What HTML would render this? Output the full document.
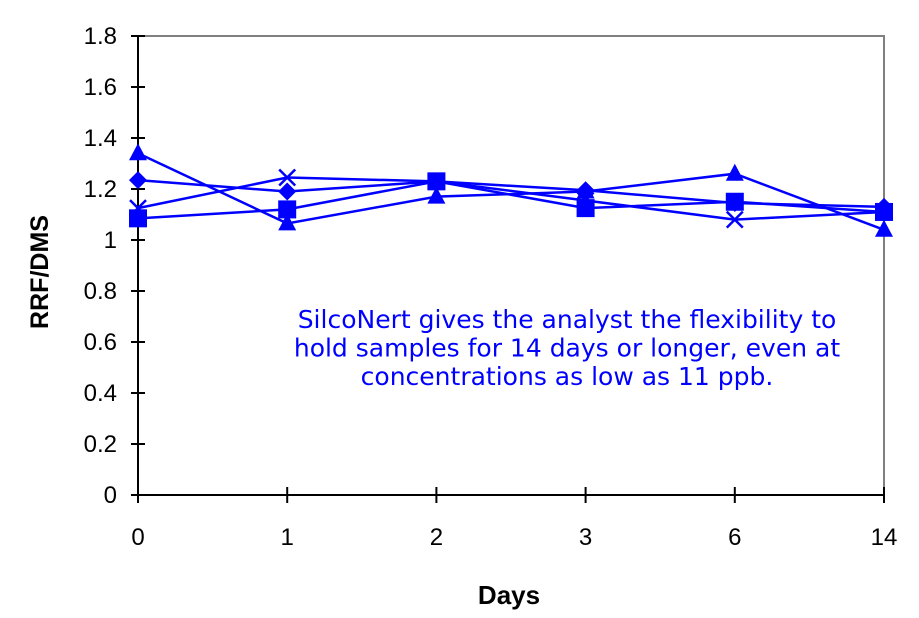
<!DOCTYPE html>
<html><head><meta charset="utf-8"><style>
body{margin:0;background:#fff}
svg text{font-family:"Liberation Sans",Arial,sans-serif}
</style></head><body>
<svg id="chart" width="919" height="613" xmlns="http://www.w3.org/2000/svg"></svg>
<script>
const categories=["0","1","2","3","6","14"];
const yTicks=[0,0.2,0.4,0.6,0.8,1,1.2,1.4,1.6,1.8];
const yTickLabels=["0","0.2","0.4","0.6","0.8","1","1.2","1.4","1.6","1.8"];
const diamondSeries=[1.235,1.19,1.23,1.195,1.145,1.13];
const squareSeries=[1.085,1.12,1.23,1.125,1.15,1.11];
const triangleSeries=[1.34,1.065,1.17,1.19,1.26,1.04];
const crossSeries=[1.125,1.245,1.23,1.155,1.08,1.11];

const NS="http://www.w3.org/2000/svg";
const svg=document.getElementById('chart');
const X0=138,X1=884,Y0=495,Y1=36,YMAX=1.8;
function xs(i){return X0+i*(X1-X0)/(categories.length-1);}
function ys(v){return Y0-(v/YMAX)*(Y0-Y1);}
function mk(tag,attrs,name){const e=document.createElementNS(NS,tag);for(const k in attrs)e.setAttribute(k,attrs[k]);


svg.appendChild(e);return e;}
mk('rect',{x:X0,y:Y1,width:X1-X0,height:Y0-Y1,fill:'none',stroke:'#808080','stroke-width':2},'plot-area');
mk('line',{x1:X0,y1:Y1,x2:X0,y2:Y0,stroke:'#000','stroke-width':2},'y-axis');
mk('line',{x1:X0,y1:Y0,x2:X1,y2:Y0,stroke:'#000','stroke-width':2},'x-axis');
yTicks.forEach((v,i)=>{
 mk('line',{x1:X0-7,y1:ys(v),x2:X0+7,y2:ys(v),stroke:'#000','stroke-width':2},'y-tick');
 const t=mk('text',{x:117,y:ys(v)+8,'text-anchor':'end','font-size':24},'y-tick-label');t.textContent=yTickLabels[i];
});
categories.forEach((c,i)=>{
 mk('line',{x1:xs(i),y1:Y0-8,x2:xs(i),y2:Y0+8,stroke:'#000','stroke-width':2},'x-tick');
 const t=mk('text',{x:xs(i),y:545,'text-anchor':'middle','font-size':24},'x-tick-label');t.textContent=c;
});
let t=mk('text',{x:509,y:604,'text-anchor':'middle','font-size':26,'font-weight':'bold'},'x-axis-title');t.textContent='Days';
t=mk('text',{x:0,y:0,'text-anchor':'middle','font-size':25,'font-weight':'bold',transform:'translate(48,272) rotate(-90)'},'y-axis-title');t.textContent='RRF/DMS';
const B='#0000ff';
function series(vals,name,marker){
 mk('polyline',{points:vals.map((v,i)=>xs(i)+','+ys(v)).join(' '),fill:'none',stroke:B,'stroke-width':2.5},name+'-line');
 vals.forEach((v,i)=>{const x=xs(i),y=ys(v);
  if(marker==='d')mk('polygon',{points:`${x},${y-9} ${x+9},${y} ${x},${y+9} ${x-9},${y}`,fill:B},name+'-point');
  if(marker==='s')mk('rect',{x:x-9,y:y-9,width:18,height:18,fill:B},name+'-point');
  if(marker==='t')mk('polygon',{points:`${x},${y-10} ${x+9},${y+7} ${x-9},${y+7}`,fill:B},name+'-point');
  if(marker==='x')mk('path',{d:`M${x-8},${y-8}L${x+8},${y+8}M${x+8},${y-8}L${x-8},${y+8}`,stroke:B,'stroke-width':2.5},name+'-point');
 });
}
series(diamondSeries,'diamond-series','d');
series(crossSeries,'cross-series','x');
series(triangleSeries,'triangle-series','t');
series(squareSeries,'square-series','s');
const notes=["SilcoNert gives the analyst the flexibility to","hold samples for 14 days or longer, even at","concentrations as low as 11 ppb."];
notes.forEach((n,i)=>{const e=mk('text',{x:567,y:328+i*28.5,'text-anchor':'middle',fill:'#0000ff'},'annotation-line');e.textContent=n;e.style.fontFamily='"DejaVu Sans",sans-serif';e.style.fontSize='25px';});
</script>
</body></html>
